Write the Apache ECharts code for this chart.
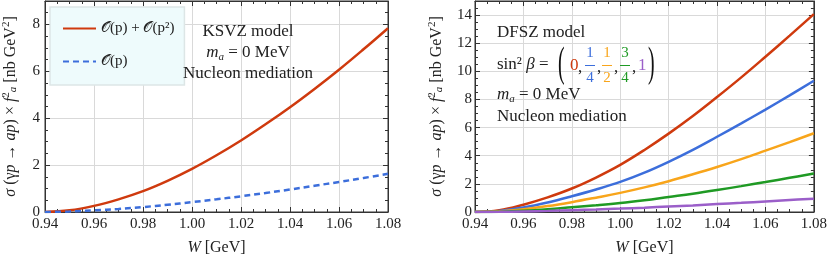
<!DOCTYPE html>
<html><head><meta charset="utf-8">
<script src="https://cdn.jsdelivr.net/npm/echarts@6/dist/echarts.min.js"></script>
<style>html,body{margin:0;padding:0;background:#fff}#c{width:830px;height:264px}</style>
</head><body><div id="c"></div>
<script>
// ---- data ----
const W = [0.94,0.95,0.96,0.97,0.98,0.99,1.00,1.01,1.02,1.03,1.04,1.05,1.06,1.07,1.08];
// KSVZ (left panel)
const ksvzNLO = [0,0.07,0.26,0.54,0.89,1.33,1.84,2.42,3.05,3.74,4.47,5.25,6.07,6.94,7.84];
const ksvzLO  = [0,0.02,0.07,0.13,0.21,0.31,0.42,0.54,0.67,0.81,0.96,1.12,1.28,1.45,1.63];
// DFSZ (right panel), sin^2 beta = 0, 1/4, 1/2, 3/4, 1
const dfsz0   = [0,0.12,0.52,1.04,1.67,2.45,3.35,4.41,5.57,6.82,8.17,9.57,11.04,12.54,14.07];
const dfsz14  = [0,0.08,0.32,0.68,1.12,1.60,2.14,2.80,3.57,4.42,5.35,6.30,7.28,8.29,9.33];
const dfsz12  = [0,0.05,0.20,0.42,0.70,1.02,1.36,1.75,2.19,2.68,3.20,3.76,4.36,4.97,5.60];
const dfsz34  = [0,0.02,0.09,0.20,0.34,0.48,0.64,0.84,1.07,1.30,1.56,1.84,2.13,2.43,2.74];
const dfsz1   = [0,0.01,0.04,0.08,0.13,0.18,0.24,0.31,0.39,0.47,0.56,0.65,0.75,0.85,0.95];
const legendNames = ['𝒪(p) + 𝒪(p²)', '𝒪(p)'];

const pair = (xs, ys) => xs.map((x,i)=>[x, ys[i]]);
const FONT = '"Liberation Serif","DejaVu Serif",serif';
const RED='#cf3a0e', BLUE='#3c6edb', ORANGE='#f8a51b', GREEN='#1f9a24', PURPLE='#9b5fc9';

const chart = echarts.init(document.getElementById('c'), null, {renderer:'canvas'});

function xAx(gi, pos, name){
  return {
    type:'value', gridIndex:gi, position:pos, min:0.94, max:1.08, interval:0.02,
    name: name, nameLocation:'middle', nameGap:28,
    nameTextStyle:{fontFamily:FONT, fontSize:16, color:'#222',
      rich:{i:{fontFamily:FONT,fontSize:16,fontStyle:'italic',color:'#222'}, r:{fontFamily:FONT,fontSize:16,color:'#222'}}},
    axisLine:{show:true, onZero:false, lineStyle:{color:'#333', width:1}},
    axisTick:{show:true, inside:true, length:5, lineStyle:{color:'#333'}},
    minorTick:{show:true, splitNumber:4, length:3, lineStyle:{color:'#333'}},
    axisLabel:{show: pos==='bottom', margin:5, fontFamily:FONT, fontSize:15, color:'#222',
      formatter:v=>v.toFixed(2), showMaxLabel:true, showMinLabel:true},
    splitLine:{show: pos==='bottom', lineStyle:{color:'#d9d9d9', width:1}},
  };
}
const yName = '{i|σ} (γ{i|p} → {i|ap}) × {i|f}{sup|2}{sub|a} [nb GeV{sup|2}]';
function yAx(gi, pos, max, showName, gap){
  return {
    type:'value', gridIndex:gi, position:pos, min:0, max:max, interval:2,
    name: showName ? yName : '', nameLocation:'middle', nameGap:gap, nameRotate:90,
    nameTextStyle:{fontFamily:FONT, fontSize:16, color:'#222',
      rich:{i:{fontFamily:FONT,fontSize:16,fontStyle:'italic',color:'#222'},
            sup:{fontFamily:FONT,fontSize:11,color:'#222',padding:[0,0,8,0]},
            sub:{fontFamily:FONT,fontSize:11,fontStyle:'italic',color:'#222',padding:[6,0,0,0]}}},
    axisLine:{show:true, onZero:false, lineStyle:{color:'#333', width:1}},
    axisTick:{show:true, inside:true, length:5, lineStyle:{color:'#333'}},
    minorTick:{show:true, splitNumber:4, length:3, lineStyle:{color:'#333'}},
    axisLabel:{show: pos==='left', margin: gi===0?5:3, fontFamily:FONT, fontSize:15, color:'#222', showMaxLabel:false},
    splitLine:{show: pos==='left', lineStyle:{color:'#d9d9d9', width:1}},
  };
}
function line(name, xi, yi, data, color, dashed){
  return {type:'line', name:name, xAxisIndex:xi, yAxisIndex:yi, data:pair(W,data),
    smooth:0.4, showSymbol:false, symbol:'none', z:5,
    lineStyle:{color:color, width:2.5, type: dashed?[6,4]:'solid'}, itemStyle:{color:color}};
}

const xName = '{i|W} [GeV]';
const option = {
  animation:false,
  backgroundColor:'#fff',
  grid:[
    {left:43, right:442, top:1, bottom:52, show:true, borderColor:'#333', borderWidth:1, backgroundColor:'transparent'},
    {left:475, right:15, top:1, bottom:52, show:true, borderColor:'#333', borderWidth:1, backgroundColor:'transparent'}
  ],
  xAxis:[ xAx(0,'bottom',xName), xAx(0,'top',''), xAx(1,'bottom',xName), xAx(1,'top','') ],
  yAxis:[ yAx(0,'left',9,true,25), yAx(0,'right',9,false,0), yAx(1,'left',15,true,29), yAx(1,'right',15,false,0) ],
  legend:{
    show:true, orient:'vertical', left:50, top:7, width:147,
    padding:[14,10,16,12], itemGap:18, itemWidth:33, itemHeight:14,
    backgroundColor:'#eefbfc', borderColor:'#dde6e6', borderWidth:1.5,
    itemStyle:{opacity:0},
    textStyle:{fontFamily:FONT, fontSize:15, color:'#222'},
    data:legendNames
  },
  series:[
    line(legendNames[0],0,0,ksvzNLO,RED,false),
    line(legendNames[1],0,0,ksvzLO,BLUE,true),
    line('s0',2,2,dfsz0,RED,false),
    line('s14',2,2,dfsz14,BLUE,false),
    line('s12',2,2,dfsz12,ORANGE,false),
    line('s34',2,2,dfsz34,GREEN,false),
    line('s1',2,2,dfsz1,PURPLE,false)
  ],
  graphic:[]
};
const G = option.graphic;
const txt = (x,y,text,opt={}, extra={}) => G.push(Object.assign({type:'text', z:10, style:Object.assign({x:x,y:y,text:text,
  font:`17px ${FONT}`, fill:'#222', textAlign:'left', textVerticalAlign:'middle'},opt)}, extra));
const maRich = {i:{fontFamily:FONT,fontSize:17,fontStyle:'italic',fill:'#222'}, s:{fontFamily:FONT,fontSize:11,fontStyle:'italic',fill:'#222',padding:[8,0,0,0]}, n:{fontFamily:FONT,fontSize:17,fill:'#222'}};
// left annotations
txt(248,32,'KSVZ model',{textAlign:'center'});
txt(248,53,'{i|m}{s|a}{n| = 0 MeV}',{textAlign:'center', rich:maRich});
txt(248,74,'Nucleon mediation',{textAlign:'center'});
// right annotations
txt(497,33,'DFSZ model');
txt(497,65,'sin² {i|β} =',{rich:{i:{fontFamily:FONT,fontSize:17,fontStyle:'italic',fill:'#222'}}});
txt(0,0,'(',{font:`18px ${FONT}`, fill:'#111'}, {x:558, y:65, scaleX:1.1, scaleY:2.3});
txt(0,0,')',{font:`18px ${FONT}`, fill:'#111'}, {x:648, y:65, scaleX:1.1, scaleY:2.3});
txt(570,66,'0',{fill:RED});
txt(578,68,',');
const frac = (x,num,den,col) => {
  txt(x,53,num,{fill:col, font:`15px ${FONT}`, textAlign:'center'});
  txt(x,78,den,{fill:col, font:`15px ${FONT}`, textAlign:'center'});
  G.push({type:'line', z:10, shape:{x1:x-5,y1:65.5,x2:x+5,y2:65.5}, style:{stroke:col, lineWidth:1}});
};
frac(590,'1','4',BLUE); txt(597,68,',');
frac(607,'1','2',ORANGE); txt(614,68,',');
frac(625,'3','4',GREEN); txt(632,68,',');
txt(638,66,'1',{fill:PURPLE});
txt(497,95,'{i|m}{s|a}{n| = 0 MeV}',{rich:maRich});
txt(497,117,'Nucleon mediation');

chart.setOption(option);
</script></body></html>
